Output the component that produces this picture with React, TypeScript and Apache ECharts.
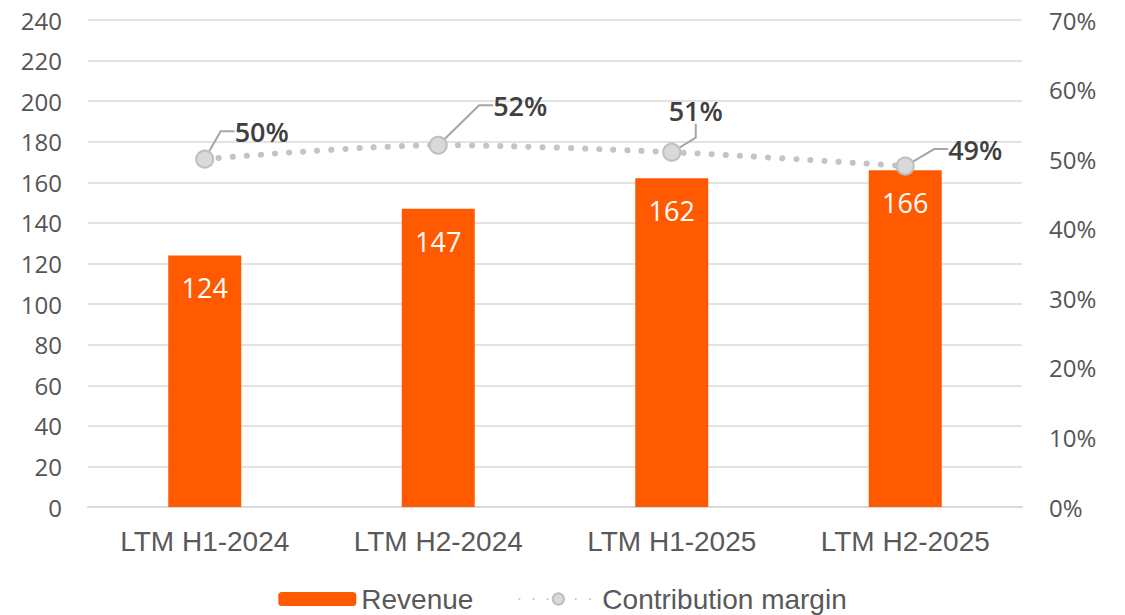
import React, { useEffect, useRef } from "react";
import * as echarts from "echarts";

const categories = ["LTM H1-2024", "LTM H2-2024", "LTM H1-2025", "LTM H2-2025"];
const revenue = [124, 147, 162, 166];
const margin = [50, 52, 51, 49];
const labelOffsets = [
  [57, 0],
  [82, -12],
  [24, -14],
  [70, 11],
];

export default function App() {
  const ref = useRef<HTMLDivElement>(null);
  useEffect(() => {
    document.body.style.margin = "0";
    const chart = echarts.init(ref.current!, null, { renderer: "svg" });
    chart.setOption({
      animation: false,
      grid: { left: 88, right: 103, top: 20, bottom: 108, containLabel: false },
      legend: {
        bottom: -3,
        left: "center",
        itemWidth: 78,
        itemHeight: 14,
        itemGap: 45,
        textStyle: { fontFamily: "Liberation Sans, Arial", fontSize: 28, color: "#595959" },
        data: ["Revenue", "Contribution margin"],
      },
      xAxis: {
        type: "category",
        data: categories,
        axisLine: { lineStyle: { color: "#d9d9d9", width: 2 } },
        axisTick: { show: false },
        axisLabel: { fontFamily: "Liberation Sans, Arial", fontSize: 28, color: "#595959", margin: 20 },
      },
      yAxis: [
        {
          type: "value",
          min: 0,
          max: 240,
          interval: 20,
          axisLine: { show: false },
          axisTick: { show: false },
          splitLine: { lineStyle: { color: "#e3e3e3", width: 2 } },
          axisLabel: { fontFamily: "Open Sans", fontSize: 24, color: "#555555", margin: 26 },
        },
        {
          type: "value",
          min: 0,
          max: 70,
          interval: 10,
          axisLine: { show: false },
          axisTick: { show: false },
          splitLine: { show: false },
          axisLabel: { fontFamily: "Open Sans", fontSize: 24, color: "#555555", margin: 27, formatter: "{value}%" },
        },
      ],
      series: [
        {
          name: "Revenue",
          type: "bar",
          data: revenue,
          barWidth: 73,
          itemStyle: { color: "#ff5a00" },
          label: {
            show: true,
            position: "insideTop",
            distance: 19,
            color: "#ffffff",
            fontFamily: "Open Sans",
            fontSize: 27,
          },
        },
        {
          name: "Contribution margin",
          type: "line",
          yAxisIndex: 1,
          data: margin,
          symbol: "circle",
          symbolSize: 17,
          itemStyle: { color: "#d9d9d9", borderColor: "#bfbfbf", borderWidth: 2 },
          lineStyle: { color: "#c4c4c4", width: 6, type: [0.1, 14], cap: "round" },
          smooth: 0.3,
          label: {
            show: true,
            position: "top",
            formatter: "{c}%",
            fontFamily: "Open Sans",
            fontWeight: 600,
            fontSize: 27,
            color: "#404040",
          },
          labelLine: { show: true, length2: 14, lineStyle: { color: "#a6a6a6", width: 2 } },
          labelLayout: (p: any) => ({ dx: labelOffsets[p.dataIndex][0], dy: labelOffsets[p.dataIndex][1] }),
        },
      ],
    });
    return () => chart.dispose();
  }, []);
  return <div ref={ref} style={{ width: 1125, height: 615 }} />;
}
